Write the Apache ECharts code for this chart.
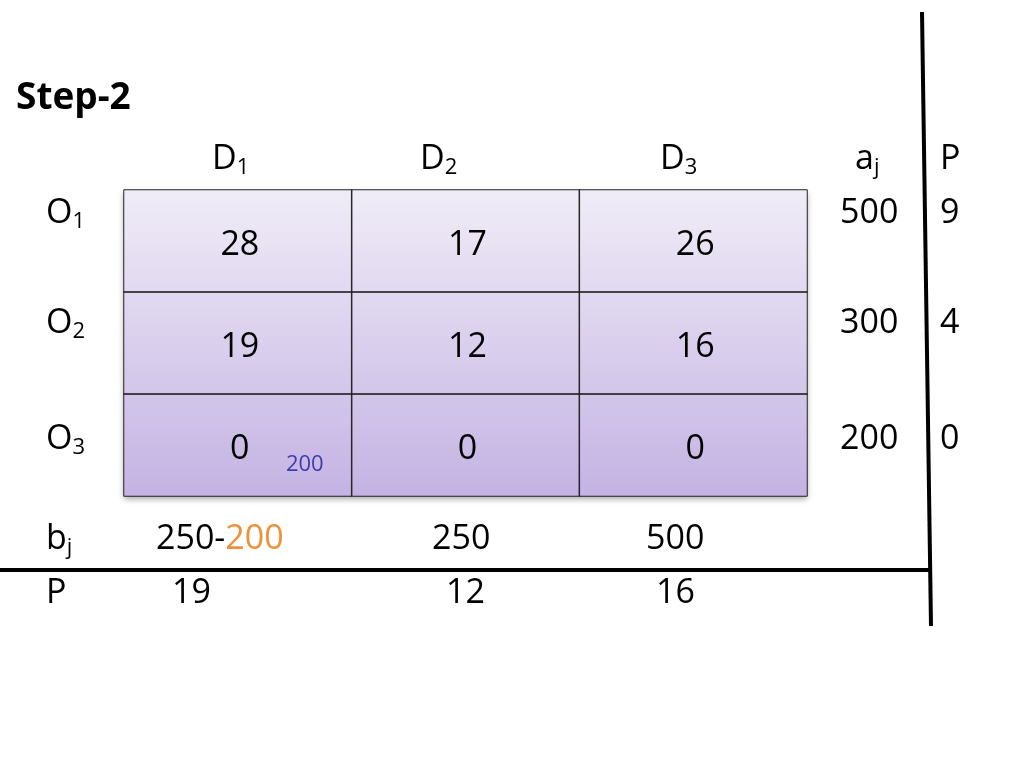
<!DOCTYPE html>
<html><head><meta charset="utf-8">
<script src="https://cdn.jsdelivr.net/npm/echarts@6/dist/echarts.min.js"></script>
<style>html,body{margin:0;background:#fff}#c{width:1024px;height:768px}</style>
</head><body><div id="c"></div>
<script>
const cols = ['D1','D2','D3'];
const rows = ['O1','O2','O3'];
const costs = [[28,17,26],[19,12,16],[0,0,0]];
const supply = [500,300,200];
const rowPenalty = [9,4,0];
const demand = ['250-200','250','500'];
const colPenalty = [19,12,16];
const allocations = [{row:2,col:0,value:200}];

const F = 'Open Sans, Liberation Sans, sans-serif';
const data = [];
costs.forEach((r,i)=>r.forEach((v,j)=>data.push([j,i,v])));
const chart = echarts.init(document.getElementById('c'));
const texts = [];
const sub = {n:{fontSize:34,fontFamily:F},s:{fontSize:22,fontFamily:F,padding:[18,0,0,0]}};
texts.push({type:'text',left:16,top:80,style:{text:'Step-2',font:'bold 37px '+F,fill:'#000'}});
cols.forEach((c,j)=>texts.push({type:'text',left:[212,420,660][j],top:142,style:{text:'{n|D}{s|'+(j+1)+'}',rich:sub}}));
rows.forEach((r,i)=>{const y=[196,306,422][i];
  texts.push({type:'text',left:46,top:y,style:{text:'{n|O}{s|'+(i+1)+'}',rich:sub}});
  texts.push({type:'text',left:840,top:y,style:{text:String(supply[i]),font:'34px '+F,fill:'#000'}});
  texts.push({type:'text',left:940,top:y,style:{text:String(rowPenalty[i]),font:'34px '+F,fill:'#000'}});
});
texts.push({type:'text',left:855,top:142,style:{text:'{n|a}{s|j}',rich:sub}});
texts.push({type:'text',left:940,top:142,style:{text:'P',font:'34px '+F,fill:'#000'}});
texts.push({type:'text',left:46,top:522,style:{text:'{n|b}{s|j}',rich:sub}});
texts.push({type:'text',left:46,top:576,style:{text:'P',font:'34px '+F,fill:'#000'}});
const dx=[156,432,646];
demand.forEach((d,j)=>{const p=d.split('-');
  texts.push({type:'text',left:dx[j],top:522,style:{text:p.length>1?'{n|'+p[0]+'-}{o|'+p[1]+'}':'{n|'+d+'}',
    rich:{n:{fontSize:34,fontFamily:F,fill:'#000'},o:{fontSize:34,fontFamily:F,fill:'#f0913a'}}}});
  texts.push({type:'text',left:[172,446,656][j],top:576,style:{text:String(colPenalty[j]),font:'34px '+F,fill:'#000'}});
});
chart.setOption({
  animation:false,
  grid:{left:124,top:190,width:683,height:306,show:true,borderWidth:0,shadowColor:'rgba(0,0,0,0.35)',shadowBlur:6,shadowOffsetY:3,
    backgroundColor:{type:'linear',x:0,y:0,x2:0,y2:1,colorStops:[{offset:0,color:'#f0ecf7'},{offset:1,color:'#c4b3e3'}]}},
  xAxis:{type:'category',data:cols,show:false},
  yAxis:{type:'category',data:rows,inverse:true,show:false},
  series:[{type:'heatmap',data:data,itemStyle:{color:'rgba(0,0,0,0)',borderColor:'#222',borderWidth:1},
    label:{show:true,offset:[2,4],fontSize:34,fontFamily:F,color:'#000',formatter:p=>p.value[2]},emphasis:{disabled:true}},
   {type:'scatter',symbolSize:0,data:allocations.map(a=>[a.col,a.row,a.value]),
    label:{show:true,position:'inside',offset:[67,20],fontSize:22,fontFamily:F,color:'#1a1a9e',formatter:p=>p.value[2]}}],
  graphic:texts.concat([
    {type:'line',shape:{x1:0,y1:570,x2:931,y2:570},style:{stroke:'#000',lineWidth:4}},
    {type:'line',shape:{x1:922,y1:12,x2:931,y2:626},style:{stroke:'#000',lineWidth:4}}
  ])
});
</script></body></html>
